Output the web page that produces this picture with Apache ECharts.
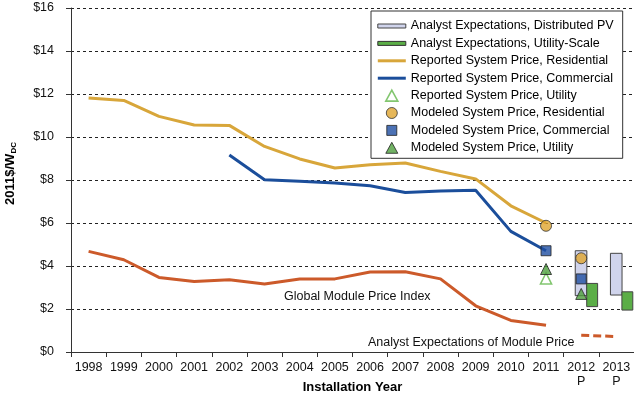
<!DOCTYPE html>
<html>
<head>
<meta charset="utf-8">
<script src="https://cdn.jsdelivr.net/npm/echarts@6/dist/echarts.min.js"></script>
<style>
html,body{margin:0;padding:0;background:#fff;}
#chart{width:634px;height:401px;}
</style>
</head>
<body>
<div id="chart"></div>
<script>
const years = ['1998','1999','2000','2001','2002','2003','2004','2005','2006','2007','2008','2009','2010','2011','2012','2013'];
const yearLabels = ['1998','1999','2000','2001','2002','2003','2004','2005','2006','2007','2008','2009','2010','2011','2012\nP','2013\nP'];
const yTicks = [0,2,4,6,8,10,12,14,16];

const residential = [11.81,11.70,10.96,10.56,10.54,9.56,8.98,8.56,8.71,8.79,8.40,8.05,6.80,6.00,null,null];
const commercial  = [null,null,null,null,9.16,8.01,7.94,7.86,7.73,7.42,7.49,7.52,5.61,4.71,null,null];
const moduleIndex = [4.68,4.29,3.47,3.28,3.36,3.16,3.40,3.40,3.72,3.73,3.40,2.15,1.47,1.24,null,null];
const moduleExpect = [null,null,null,null,null,null,null,null,null,null,null,null,null,null,0.78,0.72];

const reportedUtility = [['2011',3.42]];
const modeledResidential = [['2011',5.87],['2012',4.36]];
const modeledCommercial = [['2011',4.71],['2012',3.40]];
const modeledUtility = [['2011',3.86],['2012',2.70]];

// [year, low, high]
const analystDistributed = [['2012',2.62,4.71],['2013',2.65,4.59]];
const analystUtility = [['2012',2.11,3.19],['2013',1.95,2.80]];

const FONT = 'Liberation Sans, Arial, Helvetica, sans-serif';
const C = {
  res:'#D8A63A', com:'#1B4E9B', mod:'#CC5A2A', green:'#5BAE47', tri:'#4E9F3D',
  hollow:'#63B84B', lav:'#D0D4EC', circ:'#E0A530', sq:'#1F4FA3'
};

function boxRender(offset, widthFrac, fill){
  return function(params, api){
    const x = api.value(0), lo = api.value(1), hi = api.value(2);
    const pLo = api.coord([x, lo]);
    const pHi = api.coord([x, hi]);
    const band = api.size([1,0])[0];
    return {
      type:'rect',
      shape:{x: pLo[0] + band*offset, y: pHi[1], width: band*widthFrac, height: pLo[1]-pHi[1]},
      style:{fill: fill, stroke:'#444', lineWidth:1}
    };
  };
}

const BOX = 'path://M0,0M28,12';
const thinRect = BOX + 'M0,4h28v4h-28z';
const lineIcon = BOX + 'M0,4.5h28v3h-28z';
const triIcon = BOX + 'M14,0.5L20,11.5H8Z';
const sqIcon = BOX + 'M9,1h10v10h-10z';
const circIcon = BOX + 'M19.5,6A5.5,5.5,0,1,1,8.5,6A5.5,5.5,0,1,1,19.5,6Z';

const chart = echarts.init(document.getElementById('chart'), null, {renderer:'canvas'});
chart.setOption({
  animation:false,
  backgroundColor:'#fff',
  textStyle:{fontFamily:FONT},
  grid:{left:71, right:0, top:8, bottom:49, containLabel:false, outerBoundsMode:'none'},
  legend:{
    orient:'vertical', left:371, top:11,
    padding:[8,9,3.5,6],
    itemWidth:28, itemHeight:12, itemGap:3.4,
    backgroundColor:'#fff', borderColor:'#333', borderWidth:1,
    selectedMode:false,
    textStyle:{fontFamily:FONT, fontSize:12.5, color:'#000', lineHeight:14},
    data:[
      {name:'Analyst Expectations, Distributed PV', icon:thinRect, itemStyle:{color:C.lav, borderColor:'#444', borderWidth:1}},
      {name:'Analyst Expectations, Utility-Scale', icon:thinRect, itemStyle:{color:C.green, borderColor:'#333', borderWidth:1}},
      {name:'Reported System Price, Residential', icon:lineIcon, itemStyle:{color:C.res, borderWidth:0}},
      {name:'Reported System Price, Commercial', icon:lineIcon, itemStyle:{color:C.com, borderWidth:0}},
      {name:'Reported System Price, Utility', icon:triIcon, itemStyle:{color:'#fff', borderColor:C.hollow, borderWidth:1.6}},
      {name:'Modeled System Price, Residential', icon:circIcon, itemStyle:{color:C.circ, borderColor:'#333', borderWidth:1}},
      {name:'Modeled System Price, Commercial', icon:sqIcon, itemStyle:{color:C.sq, borderColor:'#222', borderWidth:1}},
      {name:'Modeled System Price, Utility', icon:triIcon, itemStyle:{color:C.tri, borderColor:'#222', borderWidth:1}}
    ]
  },
  xAxis:{
    type:'category', data:years, boundaryGap:true,
    name:'Installation Year', nameLocation:'middle', nameGap:29, nameMoveOverlap:false,
    nameTextStyle:{fontFamily:FONT, fontSize:13, fontWeight:'bold', color:'#000'},
    axisLine:{show:true, lineStyle:{color:'#333', width:1}},
    axisTick:{show:true, length:5, lineStyle:{color:'#333'}},
    axisLabel:{
      margin:9, fontFamily:FONT, fontSize:12.5, color:'#111', lineHeight:14, interval:0,
      formatter:function(v, i){ return yearLabels[i]; }
    },
    splitLine:{show:false}
  },
  yAxis:{
    type:'value', min:yTicks[0], max:yTicks[yTicks.length-1], interval:yTicks[1]-yTicks[0],
    name:'{a|2011$/W}{s|DC}', nameLocation:'middle', nameGap:53, nameRotate:90, nameMoveOverlap:false,
    nameTextStyle:{
      padding:[0,0,0,13],
      rich:{
        a:{fontFamily:FONT, fontSize:13, fontWeight:'bold', color:'#000', lineHeight:16},
        s:{fontFamily:FONT, fontSize:8, fontWeight:'bold', color:'#000', verticalAlign:'bottom', lineHeight:16}
      }
    },
    axisLine:{show:true, lineStyle:{color:'#333', width:1}},
    axisTick:{show:true, length:5, lineStyle:{color:'#333'}},
    axisLabel:{margin:17, fontFamily:FONT, fontSize:12.5, color:'#111', formatter:function(v){return '$'+v;}},
    splitLine:{show:true, lineStyle:{color:'#222', width:1, type:[3,3]}}
  },
  graphic:[
    {type:'text', left:284, top:290, z:10, style:{text:'Global Module Price Index', font:'12.5px '+FONT, fill:'#111'}},
    {type:'text', left:368, top:336, z:10, style:{text:'Analyst Expectations of Module Price', font:'12.5px '+FONT, fill:'#111'}}
  ],
  series:[
    {name:'Analyst Expectations, Distributed PV', type:'custom', z:2,
     encode:{x:0, y:[1,2]}, data:analystDistributed,
     itemStyle:{color:C.lav},
     renderItem:boxRender(-0.17, 0.33, C.lav)},
    {name:'Analyst Expectations, Utility-Scale', type:'custom', z:2,
     encode:{x:0, y:[1,2]}, data:analystUtility,
     itemStyle:{color:C.green},
     renderItem:boxRender(0.156, 0.31, C.green)},
    {name:'Reported System Price, Residential', type:'line', data:residential, z:3,
     symbol:'none', showSymbol:false, lineStyle:{color:C.res, width:3}, itemStyle:{color:C.res}},
    {name:'Reported System Price, Commercial', type:'line', data:commercial, z:3,
     symbol:'none', showSymbol:false, lineStyle:{color:C.com, width:3}, itemStyle:{color:C.com}},
    {name:'Global Module Price Index', type:'line', data:moduleIndex, z:3,
     symbol:'none', showSymbol:false, lineStyle:{color:C.mod, width:3}, itemStyle:{color:C.mod}},
    {name:'Analyst Expectations of Module Price', type:'line', data:moduleExpect, z:3,
     symbol:'none', showSymbol:false, lineStyle:{color:C.mod, width:3, type:[8,4]}, itemStyle:{color:C.mod}},
    {name:'Reported System Price, Utility', type:'scatter', data:reportedUtility, z:5,
     symbol:'triangle', symbolSize:11,
     itemStyle:{color:'#fff', borderColor:C.hollow, borderWidth:1.6}},
    {name:'Modeled System Price, Residential', type:'scatter', data:modeledResidential, z:5,
     symbol:'circle', symbolSize:11,
     itemStyle:{color:C.circ, borderColor:'#333', borderWidth:1}},
    {name:'Modeled System Price, Commercial', type:'scatter', data:modeledCommercial, z:5,
     symbol:'rect', symbolSize:10,
     itemStyle:{color:C.sq, borderColor:'#222', borderWidth:1}},
    {name:'Modeled System Price, Utility', type:'scatter', data:modeledUtility, z:5,
     symbol:'triangle', symbolSize:11,
     itemStyle:{color:C.tri, borderColor:'#222', borderWidth:1}}
  ]
});
</script>
</body>
</html>
